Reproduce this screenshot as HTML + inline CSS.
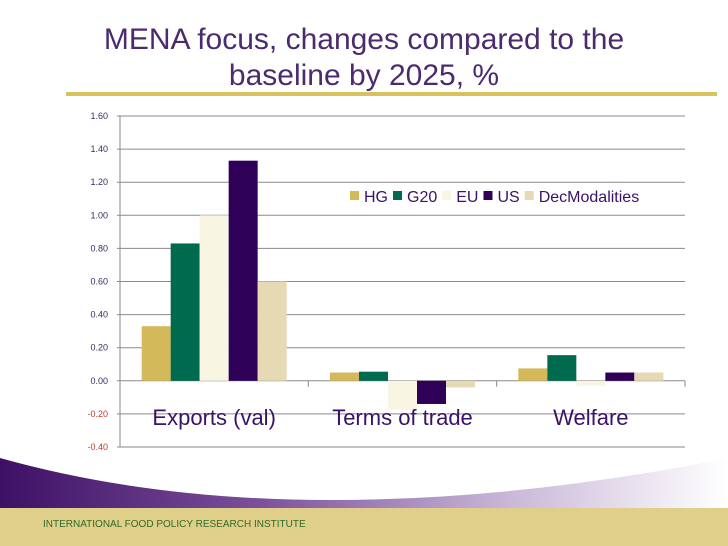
<!DOCTYPE html>
<html><head><meta charset="utf-8"><style>
body{margin:0;width:728px;height:546px;overflow:hidden;background:#fff;font-family:"Liberation Sans",sans-serif;position:relative}
#title{position:absolute;left:0;width:728px;top:22px;text-align:center;color:#4b2a6e;font-size:30px;line-height:36px}
#rule{position:absolute;left:66px;top:92px;width:651px;height:4px;background:#d8c25e}
#footer{position:absolute;left:0;top:508px;width:728px;height:38px;background:#e0cf89}
#foottext{position:absolute;left:43px;top:519px;font-size:10px;color:#2f6a2a}
svg{position:absolute;left:0;top:0}
</style></head><body>
<div id="title">MENA focus, changes compared to the<br>baseline by 2025, %</div>
<div id="rule"></div>
<svg width="728" height="546">
<defs><linearGradient id="sw" x1="0" x2="1" y1="0" y2="0"><stop offset="0" stop-color="#3d1066"/><stop offset="0.35" stop-color="#7a4e98"/><stop offset="0.7" stop-color="#c9b8d8"/><stop offset="1" stop-color="#ffffff"/></linearGradient></defs>
<path d="M0,458 Q150,500 330,500 Q520,500 728,458 L728,508 L0,508 Z" fill="url(#sw)"/>
<g id="plot"></g>
</svg>
<div id="footer"></div>
<div id="foottext">INTERNATIONAL FOOD POLICY RESEARCH INSTITUTE</div>
<script>
const categories=["Exports (val)","Terms of trade","Welfare"];
const seriesNames=["HG","G20","EU","US","DecModalities"];
const hg=[0.33,0.05,0.075];
const g20=[0.83,0.055,0.155];
const eu=[1.00,-0.175,-0.03];
const us=[1.33,-0.14,0.05];
const dec=[0.60,-0.04,0.05];
const ticks=[-0.4,-0.2,0,0.2,0.4,0.6,0.8,1.0,1.2,1.4,1.6];
const colors=["#d4b95a","#006a4e","#f8f5e3","#2e0057","#e6dab5"];
const series=[hg,g20,eu,us,dec];
const NS="http://www.w3.org/2000/svg";
const g=document.getElementById('plot');
const x0=120,x1=685,yMin=-0.4,yMax=1.6,yTop=116,yBot=447;
const y=v=>yBot-(v-yMin)/(yMax-yMin)*(yBot-yTop);
const gw=(x1-x0)/categories.length,bw=29,off=(gw-bw*5)/2;
function mk(t,a){const e=document.createElementNS(NS,t);for(const k in a)e.setAttribute(k,a[k]);g.appendChild(e);return e;}
ticks.forEach(t=>{
 const l=mk('line',{x1:x0-3,x2:x1,y1:y(t),y2:y(t),stroke:'#8a8a8a','stroke-width':1});
 
 
 const tx=mk('text',{x:x0-12,y:y(t)+3,'text-anchor':'end','font-size':9,fill:t<0?'#c0392b':'#3a2a5e'});
 tx.textContent=t.toFixed(2);
 
 
});
const ax=mk('line',{x1:x0,x2:x0,y1:yTop,y2:yBot,stroke:'#8a8a8a'});


categories.forEach((c,i)=>{
 series.forEach((s,j)=>{
  const v=s[i],bx=x0+i*gw+off+j*bw;
  const r=mk('rect',{x:bx,y:Math.min(y(v),y(0)),width:bw,height:Math.abs(y(v)-y(0)),fill:colors[j]});
  
  
 });
 const tk=mk('line',{x1:x0+(i+1)*gw,x2:x0+(i+1)*gw,y1:y(0),y2:y(0)+6,stroke:'#8a8a8a'});
 
 
 const lt=mk('text',{x:x0+i*gw+gw/2,y:425,'text-anchor':'middle','font-size':22,fill:'#3a1266'});
 lt.textContent=c;
 
 
});
let lx=350;
seriesNames.forEach((n,j)=>{
 const r=mk('rect',{x:lx,y:191,width:9,height:9,fill:colors[j]});
 
 
 const t=mk('text',{x:lx+14,y:202,'font-size':16,fill:'#3a1266'});
 t.textContent=n;
 
 
 lx+=14+t.getComputedTextLength()+5;
});
</script>
</body></html>
